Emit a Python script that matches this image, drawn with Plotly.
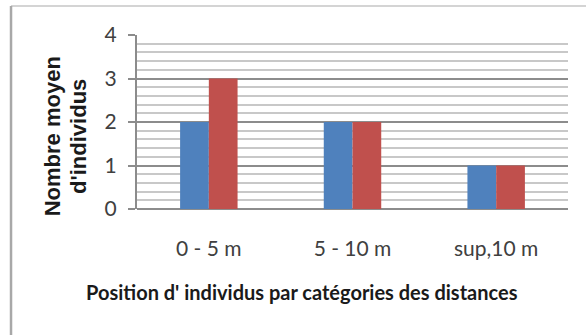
import plotly.graph_objects as go

# Distance categories and mean number of individuals per series
categories = ["0 - 5 m", "5 - 10 m", "sup,10 m"]
series_a = [2, 2, 1]
series_b = [3, 2, 1]
y_ticks = [0, 1, 2, 3, 4]

x_title = "Position d' individus par catégories des distances"
y_title_lines = ["Nombre moyen", "d'individus"]

fig = go.Figure()
fig.add_trace(go.Bar(x=categories, y=series_a, marker=dict(color="#4F81BD", line=dict(width=0))))
fig.add_trace(go.Bar(x=categories, y=series_b, marker=dict(color="#C0504D", line=dict(width=0))))

fig.update_layout(
    width=586, height=335,
    margin=dict(l=137, r=18, t=35, b=126),
    paper_bgcolor="white", plot_bgcolor="white",
    showlegend=False,
    barmode="group", bargap=0.6, bargroupgap=0,
)

fig.update_xaxes(
    showline=False, showgrid=False, ticks="",
    tickfont=dict(family="Lato", size=21, color="#404040"),
    ticklabelstandoff=25,
)
fig.update_yaxes(
    range=[0, 4], tickvals=y_ticks,
    showline=True, linecolor="#8c8c8c", linewidth=2,
    ticks="outside", ticklen=7, tickcolor="#8c8c8c", tickwidth=2,
    showgrid=True, gridcolor="#8c8c8c", gridwidth=2,
    zeroline=True, zerolinecolor="#8c8c8c", zerolinewidth=2,
    minor=dict(dtick=0.2, showgrid=True, gridcolor="#c8c8c8", gridwidth=1.5),
    tickfont=dict(family="Lato", size=21, color="#404040"),
    ticklabelstandoff=7,
)

# Outer chart frame (left and top edges)
fig.add_shape(type="line", xref="paper", yref="paper",
              x0=-0.2923, x1=1.2, y0=1.1667, y1=1.1667,
              line=dict(color="#d4d4d4", width=2))
fig.add_shape(type="line", xref="paper", yref="paper",
              x0=-0.2923, x1=-0.2923, y0=1.1667, y1=-0.8,
              line=dict(color="#a8a8a8", width=2.5))

# Axis titles
fig.add_annotation(text=x_title, xref="paper", yref="paper",
                   x=0.383, y=-0.477, showarrow=False,
                   xanchor="center", yanchor="middle",
                   font=dict(family="Lato", size=20, color="#1a1a1a", weight="bold"))
for xpos, line in zip([-0.194, -0.1346], y_title_lines):
    fig.add_annotation(text=line, xref="paper", yref="paper",
                       x=xpos, y=0.42, showarrow=False, textangle=-90,
                       xanchor="center", yanchor="middle",
                       font=dict(family="Liberation Sans", size=22, color="#1a1a1a", weight="bold"))

fig.write_html("out.html")
